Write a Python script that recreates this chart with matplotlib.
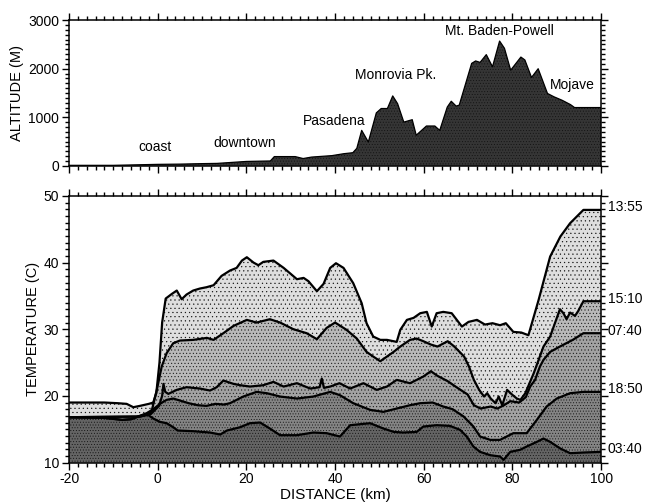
import numpy as np
import matplotlib
matplotlib.use("Agg")
import matplotlib.pyplot as plt
from matplotlib.ticker import MultipleLocator

plt.rcParams['font.family'] = ['Liberation Sans', 'DejaVu Sans']
plt.rcParams['axes.unicode_minus'] = False
plt.rcParams['hatch.color'] = '#111111'
plt.rcParams['hatch.linewidth'] = 0.35

# ---- terrain profile along the traverse ----
alt_km = [-20, -10, 0, 5, 10, 13.4, 20, 25.4, 26.3, 31, 32.8, 34.7, 39.3, 42, 44, 44.9,
          46, 47.5, 49.3, 50.4, 51.8, 53, 54.1, 55.5, 57.4, 58.3, 60.6, 62.5, 63.6, 65.3,
          66.2, 67.3, 68.0, 70.8, 71.7, 72.7, 74.1, 75.5, 77.1, 78.2, 79.6, 81.9, 82.8,
          84.3, 85.8, 87.9, 89.4, 91.2, 93.1, 94.0, 100]
alt_m = [10, 10, 30, 35, 45, 50, 90, 100, 190, 190, 150, 180, 210, 250, 270, 360,
         730, 490, 1090, 1180, 1180, 1440, 1280, 900, 950, 630, 820, 820, 730, 1210,
         1330, 1230, 1250, 2110, 2160, 2130, 2290, 2040, 2570, 2420, 1970, 2240, 2180,
         1820, 2000, 1490, 1420, 1350, 1260, 1200, 1200]

places = ["coast", "downtown", "Pasadena", "Monrovia Pk.", "Mt. Baden-Powell", "Mojave"]
place_km = [-0.5, 19.7, 39.8, 53.7, 77.1, 93.5]
place_alt = [390, 470, 930, 1870, 2780, 1660]

# ---- temperature traverses (distance km, temperature C) ----
t1355_km = [-20, -12, -9, -7, -5.5, -4, -2, -1, -0.3, 0.4, 1.0, 1.8, 3.2, 4.3, 5.4, 6.5,
            8.0, 9.5, 11.0, 12.6, 14.4, 16.3, 17.8, 19.0, 20.1, 21.6, 22.7, 23.8, 26.1,
            28.4, 30.0, 31.4, 32.9, 34.0, 35.9, 37.4, 38.9, 40.2, 41.9, 44.1, 46.0, 47.1,
            48.6, 50.2, 51.7, 53.9, 54.7, 56.2, 57.7, 59.2, 60.7, 61.8, 62.9, 64.4, 66.3,
            68.6, 70.1, 72.0, 73.8, 75.5, 77.2, 78.5, 80.2, 82.0, 83.6, 85.9, 88.5, 90.8,
            93.0, 96.0, 100]
t1355 = [19.0, 19.0, 18.9, 18.8, 18.3, 18.5, 18.8, 19.0, 20.5, 25.0, 31.0, 34.6, 35.3,
         35.8, 34.5, 35.2, 35.8, 36.1, 36.3, 36.6, 38.0, 38.8, 39.2, 40.3, 40.8, 40.0,
         39.6, 40.1, 40.3, 39.2, 38.3, 37.5, 37.7, 37.2, 35.7, 36.8, 39.2, 39.9, 39.2,
         36.9, 33.9, 30.9, 28.9, 28.4, 28.4, 28.1, 29.9, 31.4, 31.7, 32.4, 32.6, 30.4,
         32.4, 32.6, 32.4, 30.4, 31.1, 31.4, 30.7, 30.9, 30.6, 30.9, 29.6, 29.5, 29.1,
         34.4, 40.9, 43.9, 45.9, 47.9, 47.9]

t1510_km = [-20, -4, -2, -1.3, -0.2, 0.9, 2.0, 3.5, 5.0, 8.0, 11.1, 12.6, 14.8, 17.1,
            20.1, 22.3, 25.3, 27.6, 30.6, 33.6, 35.9, 38.1, 40.0, 42.6, 44.9, 47.1, 48.6,
            50.2, 51.7, 53.2, 54.7, 56.9, 58.4, 59.9, 61.6, 63.1, 65.4, 66.9, 69.1, 70.2,
            71.3, 72.5, 73.6, 74.3, 75.1, 76.2, 76.9, 77.7, 78.8, 79.9, 81.0, 81.8, 82.9,
            84.8, 87.0, 88.5, 90.7, 91.5, 92.2, 93.0, 94.1, 94.8, 96.0, 100]
t1510 = [16.8, 16.9, 17.2, 17.9, 20.9, 24.4, 26.4, 27.9, 28.3, 28.4, 28.7, 28.4, 29.4,
         30.5, 31.4, 31.0, 31.5, 31.0, 30.0, 29.4, 28.5, 30.2, 31.0, 29.9, 28.6, 26.6,
         25.9, 25.2, 25.9, 26.6, 27.4, 28.4, 28.6, 28.2, 27.7, 27.4, 28.2, 27.4, 25.9,
         24.4, 22.4, 20.9, 19.9, 20.4, 19.6, 18.9, 19.9, 18.6, 20.9, 20.2, 19.6, 19.4,
         20.4, 23.4, 27.4, 28.9, 33.0, 32.4, 31.5, 32.5, 32.0, 32.7, 34.2, 34.2]

t0740_km = [-20, -4, -1.5, 0.3, 1.0, 1.3, 1.7, 2.4, 4.3, 6.5, 9.5, 11.8, 13.3, 14.8,
            17.1, 18.6, 20.8, 23.8, 26.1, 28.4, 31.4, 34.4, 36.5, 37.0, 37.5, 38.9, 41.0,
            43.4, 46.4, 49.4, 51.7, 53.9, 56.9, 59.9, 61.6, 63.1, 65.4, 67.6, 69.9, 71.3,
            72.8, 75.1, 76.6, 78.1, 79.5, 81.5, 83.0, 84.0, 85.1, 86.2, 87.0, 88.5, 90.7,
            93.6, 96.0, 100]
t0740 = [16.8, 16.9, 17.3, 18.5, 20.0, 21.8, 20.6, 20.3, 20.9, 21.3, 21.1, 20.8, 21.3,
         22.3, 21.8, 21.6, 21.4, 21.6, 22.1, 21.4, 21.9, 21.1, 21.3, 22.6, 21.2, 21.4,
         21.9, 21.1, 21.9, 20.9, 21.4, 22.4, 21.9, 22.9, 23.7, 23.0, 22.2, 21.2, 20.2,
         18.6, 18.1, 18.4, 18.1, 18.6, 19.2, 19.0, 19.8, 21.4, 22.4, 24.4, 25.4, 26.6,
         27.4, 28.4, 29.4, 29.4]

t1850_km = [-20, -12, -8, -6, -4, -2.5, -1, 0.5, 2.0, 3.5, 5, 7, 9, 11, 13, 15, 16.3,
            19.3, 22.3, 24.6, 27.6, 31.4, 35.1, 38.9, 41.1, 44.1, 47.9, 50.9, 53.9, 56.9,
            59.2, 62, 64.4, 66.5, 69.0, 71.2, 72.7, 75.0, 77.2, 78.7, 80.2, 83.2, 85.5,
            87.7, 90.0, 93.0, 96.0, 100]
t1850 = [16.8, 16.7, 16.4, 16.5, 17.0, 17.4, 18.0, 18.8, 19.4, 19.6, 19.3, 18.9, 18.6,
         18.5, 18.8, 18.7, 18.9, 19.9, 20.6, 20.4, 19.9, 19.6, 19.9, 20.6, 20.1, 18.9,
         17.9, 17.6, 18.1, 18.6, 18.9, 19.0, 18.4, 18.0, 16.9, 15.4, 13.9, 13.4, 13.4,
         13.9, 14.4, 14.4, 16.4, 18.4, 19.6, 20.4, 20.6, 20.6]

t0340_km = [-20, -12, -8, -6, -4, -2.5, -1, 0.5, 2.0, 3.5, 4.5, 8.0, 11.8, 14.1, 15.6,
            18.6, 20.8, 23.1, 25.3, 27.6, 31.4, 35.1, 38.1, 41.1, 43.4, 47.9, 50.9, 53.2,
            55.4, 58.4, 59.9, 62.9, 65.9, 68.2, 69.7, 71.2, 72.7, 75.0, 77.2, 78.0, 79.5,
            81.7, 83.2, 85.5, 87.0, 88.5, 90.8, 93.0, 96.0, 100]
t0340 = [16.8, 16.7, 16.4, 16.5, 17.0, 17.3, 16.6, 16.1, 15.9, 15.3, 14.8, 14.7, 14.5,
         14.2, 14.8, 15.3, 15.9, 16.0, 15.1, 14.1, 14.1, 14.5, 14.4, 13.9, 15.6, 15.9,
         15.1, 14.6, 14.5, 14.6, 15.4, 15.6, 15.5, 14.9, 13.9, 12.4, 11.6, 11.1, 10.9,
         10.4, 11.6, 11.9, 12.4, 13.1, 13.6, 13.1, 12.1, 11.4, 11.5, 11.6]

times = ["13:55", "15:10", "07:40", "18:50", "03:40"]
traverses = [(t1355_km, t1355), (t1510_km, t1510), (t0740_km, t0740),
             (t1850_km, t1850), (t0340_km, t0340)]
# stippled grey screens, lightest for the warmest traverse
shades = ["#dedede", "#b9b9b9", "#a2a2a2", "#848484", "#646464"]
stipple = ["....", ".....", ".....", "......", "......"]

fig = plt.figure(figsize=(6.45, 5.04), dpi=100)
ax1 = fig.add_axes([0.107, 0.671, 0.825, 0.289])
ax2 = fig.add_axes([0.107, 0.0823, 0.825, 0.529])

def style_axes(ax, ymajor, yminor):
    ax.set_xlim(-20, 100)
    ax.xaxis.set_major_locator(MultipleLocator(20))
    ax.xaxis.set_minor_locator(MultipleLocator(2))
    ax.yaxis.set_major_locator(MultipleLocator(ymajor))
    ax.yaxis.set_minor_locator(MultipleLocator(yminor))
    ax.tick_params(which="both", top=True, right=True, direction="out",
                   labelsize=10, width=1.0, pad=2)
    ax.tick_params(which="major", length=5)
    ax.tick_params(which="minor", length=2.8)
    for s in ax.spines.values():
        s.set_linewidth(1.1)

# terrain panel
ax1.fill_between(alt_km, 0, alt_m, facecolor="#353535", hatch="......",
                 edgecolor="none", lw=0)
ax1.plot(alt_km, alt_m, color="black", lw=0.9)
ax1.set_ylim(0, 3000)
style_axes(ax1, 1000, 100)
ax1.tick_params(labelbottom=False)
ax1.set_ylabel("ALTITUDE (M)", fontsize=10.5, labelpad=3)
for name, xk, ya in zip(places, place_km, place_alt):
    ax1.text(xk, ya, name, ha="center", va="center", fontsize=10)

# temperature panel: warmest traverse first, each one shaded darker on top
for (xk, tv), c, h in zip(traverses, shades, stipple):
    ax2.fill_between(xk, 10, tv, facecolor=c, hatch=h, edgecolor="none", lw=0)
for xk, tv in traverses:
    ax2.plot(xk, tv, color="black", lw=1.6, solid_joinstyle="round")
ax2.set_ylim(10, 50)
style_axes(ax2, 10, 1)
ax2.set_ylabel("TEMPERATURE (C)", fontsize=10.5, labelpad=3)
ax2.set_xlabel("DISTANCE (km)", fontsize=11, labelpad=1)

for label, (xk, tv) in zip(times, traverses):
    ax2.text(1.012, tv[-1] + 0.4, label, transform=ax2.get_yaxis_transform(),
             ha="left", va="center", fontsize=10, clip_on=False)

fig.savefig("out.png", dpi=100)
